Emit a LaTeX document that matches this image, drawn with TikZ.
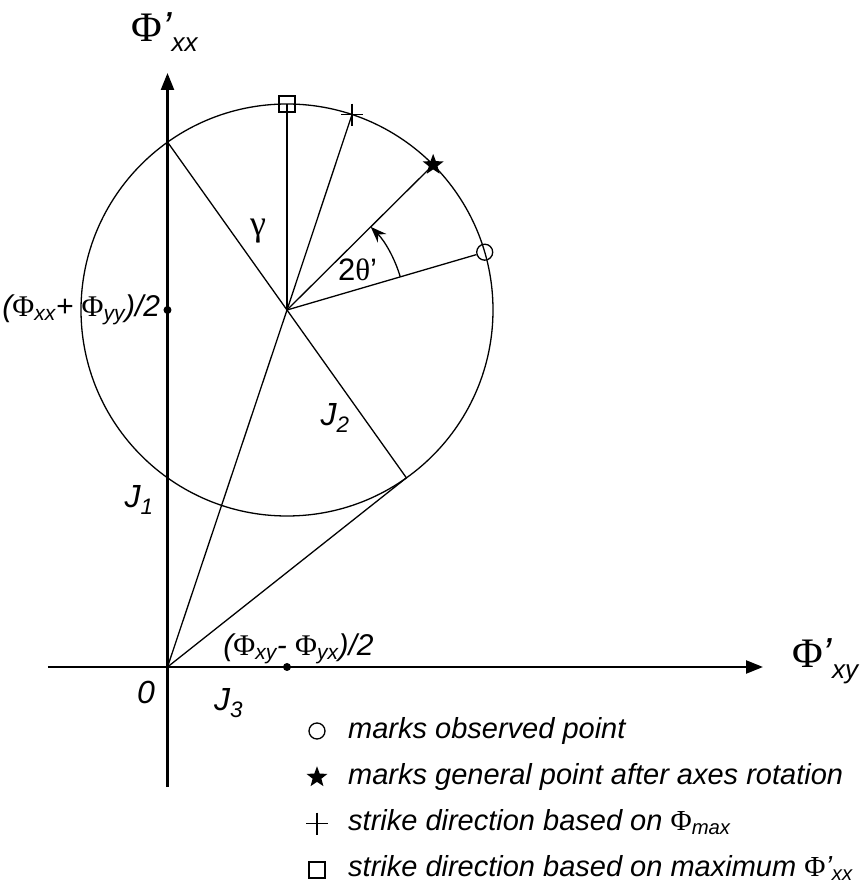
\documentclass[tikz,border=0pt]{standalone}
\usepackage{fontspec}
\setmainfont{Liberation Sans}
\newfontfamily\grk{Liberation Serif}
\usetikzlibrary{arrows.meta,calc,positioning,shapes.geometric}

\newcommand{\Ph}{{\upshape\grk Φ}}
\newcommand{\Phs}[1]{\Ph\textsubscript{#1}}
\newcommand{\Phax}[1]{\Ph’\raisebox{-10pt}{\fontsize{26}{28}\selectfont\itshape #1}}

\tikzset{
  axis/.style={line width=2.4pt,-{Triangle[length=17pt,width=13pt]}},
  ray/.style={line width=1.3pt},
  lab/.style={font=\fontsize{30}{34}\selectfont\itshape,inner sep=0pt},
  jlab/.style={font=\fontsize{32}{34}\selectfont\itshape,inner sep=0pt},
  axlab/.style={font=\fontsize{42}{44}\selectfont\itshape,inner sep=0pt},
  legtxt/.style={font=\fontsize{29}{32}\selectfont\itshape,inner sep=0pt},
  dot/.style={circle,fill=black,inner sep=0pt,minimum size=8pt},
  obsmark/.style={circle,draw,line width=1.3pt,inner sep=0pt,minimum size=16pt},
  sqmark/.style={rectangle,draw,line width=1.3pt,inner sep=0pt,minimum size=16pt},
  starmark/.style={star,star points=5,star point ratio=2.4,fill=black,inner sep=0pt,minimum size=22pt},
  plusmark/.style={rectangle,inner sep=0pt,minimum size=22pt,
    path picture={\draw[line width=1.3pt] (path picture bounding box.north) -- (path picture bounding box.south)
      (path picture bounding box.west) -- (path picture bounding box.east);}},
}

\begin{document}
\begin{tikzpicture}[x=1pt,y=1pt]
    \useasboundingbox (-167.5,-222) rectangle (699.5,667);
    \def\rad{206}
    \coordinate (O) at (0,0);
    \coordinate (C) at (119.5,357);
    \coordinate (Xa) at (-119.5,0);
    \coordinate (Xb) at (595.5,0);
    \coordinate (Ya) at (0,-120);
    \coordinate (Yb) at (0,594);
    \coordinate (P1) at ($(C)+(125.43:\rad)$);
    \coordinate (T) at ($(C)+(-54.57:\rad)$);
    \coordinate (Msq) at ($(C)+(90:\rad)$);
    \coordinate (Mpl) at ($(C)+(71.6:\rad)$);
    \coordinate (Mst) at ($(C)+(44.8:\rad)$);
    \coordinate (Mob) at ($(C)+(16.3:\rad)$);
    \coordinate (A0) at ($(C)+(16.3:118)$);

    \draw[axis] (Xa) -- (Xb);
    \draw[axis] (Ya) -- (Yb);
    \draw[ray] (C) circle[radius=\rad];
    \draw[ray] (P1) -- (T);
    \draw[ray] (O) -- (C);
    \draw[ray] (O) -- (T);
    \foreach \p in {Msq,Mpl,Mst} {
        \draw[ray] (C) -- (\p);
    }
    \node[obsmark] (ob) at (Mob) {};
    \draw[ray] (C) -- (ob);
    \node[sqmark] (sq) at (Msq) {};
    \node[plusmark] (pl) at (Mpl) {};
    \node[starmark] (st) at (Mst) {};
    \draw[ray,-{Stealth[length=16pt,width=12pt]}] (A0) arc[start angle=16.3,end angle=44.8,radius=118];

    \node[dot] (dy) at (0,357) {};
    \node[dot] (dx) at (119.5,0) {};
    \node[lab,left=3pt of dy] (ldy) {(\Phs{xx}+ \Phs{yy})/2};
    \node[lab] (ldx) at (131,18) {(\Phs{xy}- \Phs{yx})/2};

    \node[axlab,anchor=base west] (ly) at (-36,625) {\Phax{xx}};
    \node[axlab,anchor=base west] (lx) at (624.5,-1) {\Phax{xy}};

    \node[jlab] (j1) at (-28.5,167) {J\textsubscript{1}};
    \node[jlab] (j2) at (167.5,249) {J\textsubscript{2}};
    \node[jlab] (j3) at (61,-36) {J\textsubscript{3}};
    \node[jlab] (zero) at (-21.5,-25) {0};
    \node[lab,font=\fontsize{36}{38}\selectfont] (gam) at (90.5,436) {\grk γ};
    \node[lab,font=\fontsize{31}{34}\selectfont] (th) at (190,397) {2{\grk θ}’};

    \foreach \sty/\txt [count=\i] in {obsmark/{marks observed point},
        starmark/{marks general point after axes rotation},
        plusmark/{strike direction based on \Phs{max}},
        sqmark/{strike direction based on maximum \Ph’\textsubscript{xx}}} {
        \node[\sty] (s\i) at (149.5,{-64-46.3*(\i-1)}) {};
        \node[legtxt,anchor=base west] (t\i) at ($(s\i)+(31,-7)$) {\txt};
    }
\end{tikzpicture}
\end{document}
